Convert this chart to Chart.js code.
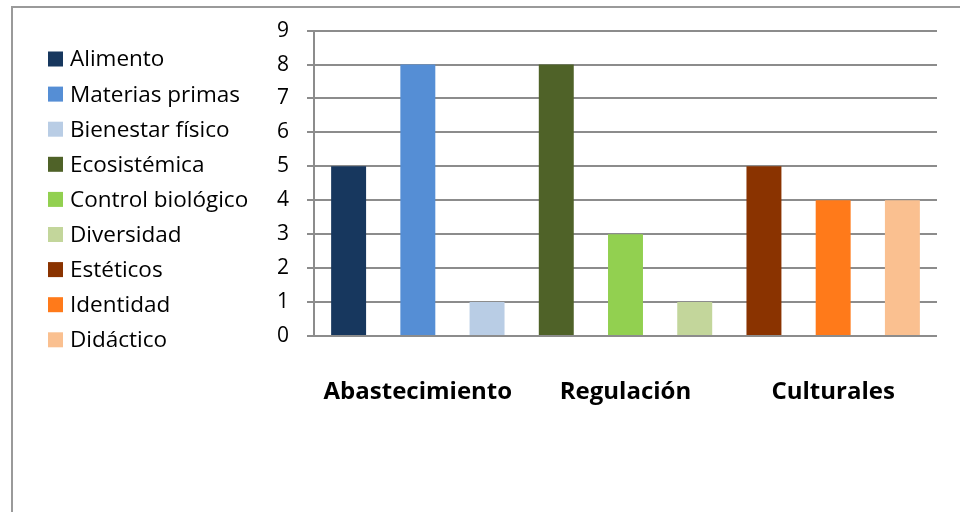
<!DOCTYPE html>
<html>
<head>
<meta charset="utf-8">
<script src="https://cdn.jsdelivr.net/npm/chart.js@4"></script>
<style>
  html, body { margin: 0; padding: 0; background: #fff; }
  #wrap { position: relative; width: 960px; height: 512px; overflow: hidden; }
  #frame { position: absolute; left: 11px; top: 6px; width: 980px; height: 540px;
           border-left: 2px solid #9a9a9a; border-top: 2px solid #9a9a9a; box-sizing: border-box; }
  canvas { position: absolute; left: 0; top: 0; }
</style>
</head>
<body>
<div id="wrap">
  <div id="frame"></div>
  <canvas id="chart" width="960" height="512"></canvas>
</div>
<script>
// Ecosystem services, counted per type
const services = ['Alimento', 'Materias primas', 'Bienestar físico', 'Ecosistémica',
                  'Control biológico', 'Diversidad', 'Estéticos', 'Identidad', 'Didáctico'];
const counts = [5, 8, 1, 8, 3, 1, 5, 4, 4];
const groups = ['Abastecimiento', 'Regulación', 'Culturales'];
const yTicks = [0, 1, 2, 3, 4, 5, 6, 7, 8, 9];
const colors = ['#17375e', '#558ed5', '#b9cde5', '#4f6228', '#92d050',
                '#c3d69b', '#8a3300', '#ff7a1a', '#fac090'];

const FONT = "'Open Sans', 'Noto Sans', sans-serif";

// Side legend listing every service with its colour swatch
const sideLegend = {
  id: 'sideLegend',
  afterDraw(chart) {
    const ctx = chart.ctx;
    ctx.save();
    ctx.font = '22.5px ' + FONT;
    ctx.textBaseline = 'middle';
    ctx.textAlign = 'left';
    services.forEach((name, i) => {
      const y = 59 + i * 35.1;
      ctx.fillStyle = colors[i];
      ctx.fillRect(48, y - 7.5, 15, 15);
      ctx.fillStyle = '#000';
      ctx.fillText(name, 70, y + 1);
    });
    ctx.restore();
  }
};

new Chart(document.getElementById('chart'), {
  type: 'bar',
  data: {
    labels: services,
    datasets: [{
      data: counts,
      backgroundColor: colors,
      borderWidth: 0,
      categoryPercentage: 1,
      barPercentage: 0.505
    }]
  },
  options: {
    responsive: false,
    animation: false,
    layout: { padding: { left: 254, right: 23, top: 25, bottom: 80 } },
    plugins: { legend: { display: false }, tooltip: { enabled: false } },
    scales: {
      x: {
        grid: { display: false },
        border: { display: false },
        afterFit(scale) { scale.height = 96; },
        ticks: {
          autoSkip: false,
          maxRotation: 0,
          padding: 34,
          color: '#000',
          font: { family: FONT, size: 24, weight: 'bold' },
          callback: (v, i) => (i % 3 === 1 ? groups[(i - 1) / 3] : '')
        }
      },
      y: {
        min: 0,
        max: 9,
        afterFit(scale) { scale.width = 60; },
        afterBuildTicks(scale) { scale.ticks = yTicks.map(v => ({ value: v })); },
        grid: { color: '#8c8c8c', lineWidth: 2, tickLength: 7 },
        border: { color: '#8c8c8c', width: 2 },
        ticks: {
          padding: 18,
          color: '#000',
          font: { family: FONT, size: 21 }
        }
      }
    }
  },
  plugins: [sideLegend]
});
</script>
</body>
</html>
